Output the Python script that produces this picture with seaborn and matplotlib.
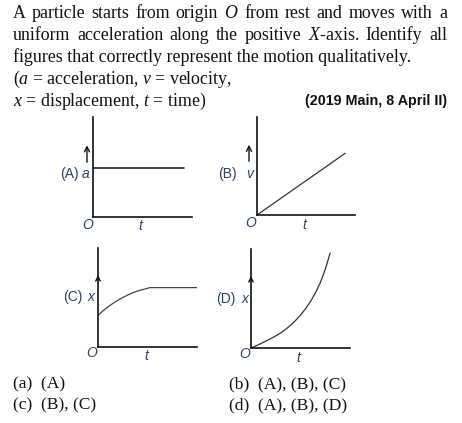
import matplotlib
matplotlib.use("Agg")
import matplotlib.pyplot as plt
import seaborn as sns
import numpy as np

# ---------------- data ----------------
header_lines = [
    "A particle starts from origin $O$ from rest and moves with a",
    "uniform acceleration along the positive $X$-axis. Identify all",
    "figures that correctly represent the motion qualitatively.",
    "($a$ = acceleration, $v$ = velocity,",
    "$x$ = displacement, $t$ = time)",
]
source_label = "(2019 Main, 8 April II)"
options_left = ["(a)  (A)", "(c)  (B), (C)"]
options_right = ["(b)  (A), (B), (C)", "(d)  (A), (B), (D)"]

panel_names = ["(A)", "(B)", "(C)", "(D)"]
panel_vars = ["a", "v", "x", "x"]

# (A) acceleration vs time
a_t = [0.0, 9.2]
a_val = [4.9, 4.9]
# (B) velocity vs time
b_t = [0.0, 9.0]
b_val = [0.0, 6.3]
# (C) displacement vs time (wrong shape)
c_t = [0.0, 0.5, 1.0, 1.5, 2.0, 2.5, 3.0, 3.5, 4.0, 4.5, 5.0, 5.25, 10.0]
c_val = [3.2, 3.65, 4.05, 4.4, 4.72, 5.0, 5.25, 5.47, 5.65, 5.8, 5.93, 6.0, 6.0]
# (D) displacement vs time (parabola-like)
d_t = [0.0, 0.5, 1.0, 1.5, 2.0, 2.5, 3.0, 3.5, 4.0, 4.5, 5.0, 5.5, 6.0,
       6.5, 7.0, 7.5, 8.0]
d_val = [0.0, 0.22, 0.45, 0.7, 0.95, 1.22, 1.52, 1.88, 2.3, 2.78, 3.32,
         3.95, 4.68, 5.55, 6.6, 7.95, 9.6]

# ---------------- figure ----------------
sns.set_theme(style="white")
plt.rcParams["font.family"] = ["Liberation Serif", "DejaVu Serif"]
plt.rcParams["mathtext.fontset"] = "custom"
plt.rcParams["mathtext.rm"] = "Liberation Serif"
plt.rcParams["mathtext.it"] = "Liberation Serif:italic"

W, H = 462, 423
fig = plt.figure(figsize=(W / 100, H / 100), dpi=100)
fig.patch.set_facecolor("white")

def fx(x):
    return x / W

def fy(y):
    return 1 - y / H

TXT = "#111111"
LAB = "#33405a"

# header, first two lines justified
def justify(line, x0, x1, ybase, **kw):
    words = line.split(" ")
    texts = [fig.text(0, 0, w, **kw) for w in words]
    fig.canvas.draw()
    r = fig.canvas.get_renderer()
    widths = [t.get_window_extent(r).width for t in texts]
    gap = (x1 - x0 - sum(widths)) / (len(words) - 1)
    x = x0
    for t, w in zip(texts, widths):
        t.set_position((fx(x), fy(ybase)))
        x += w + gap

head_kw = dict(fontsize=12.9, color=TXT, va="baseline", ha="left",
               family="Liberation Serif")
baselines = [18.5, 40.5, 62.0, 84.0, 105.5]
for i, line in enumerate(header_lines):
    if i < 2:
        justify(line, 13, 447, baselines[i], **head_kw)
    else:
        fig.text(fx(13), fy(baselines[i]), line, **head_kw)

fig.text(fx(447), fy(105.5), source_label, fontsize=10.3, fontweight="bold",
         family="Liberation Sans", color=TXT, ha="right", va="baseline")

# options
opt_kw = dict(fontsize=12.6, color=TXT, va="baseline", ha="left",
              family="Liberation Serif")
for i, s in enumerate(options_left):
    fig.text(fx(13), fy([388, 409.5][i]), s, **opt_kw)
for i, s in enumerate(options_right):
    fig.text(fx(229), fy([388, 409.5][i]), s, **opt_kw)

# panels: pixel boxes (left, bottom, right, top)
boxes = [(93, 217, 192, 117), (257, 215, 355, 117),
         (98, 347, 197, 248), (251, 348, 350, 249)]
series = [(a_t, a_val), (b_t, b_val), (c_t, c_val), (d_t, d_val)]
line_styles = [dict(color="#111111", lw=1.1), dict(color="#333333", lw=0.9),
               dict(color="#444444", lw=0.9), dict(color="#333333", lw=0.9)]

name_pos = [(60, 178), (218, 178), (63, 301), (216, 303)]
var_pos = [(82, 178), (246, 178), (88, 301), (241.5, 303)]
o_pos = [(82.5, 229), (245, 227), (86.5, 357), (239, 358)]
t_pos = [(140, 230), (304, 229), (146, 360), (298, 362)]

lab_kw = dict(fontsize=10, color=LAB, family="Liberation Sans", va="baseline")

for k in range(4):
    l, b, r, t = boxes[k]
    ax = fig.add_axes([fx(l), fy(b), (r - l) / W, (b - t) / H])
    ax.set_xlim(0, 10)
    ax.set_ylim(0, 10)
    ax.set_facecolor("none")
    xs, ys = series[k]
    sns.lineplot(x=xs, y=ys, ax=ax, sort=False, **line_styles[k])
    for s in ["top", "right"]:
        ax.spines[s].set_visible(False)
    for s in ["left", "bottom"]:
        ax.spines[s].set_visible(True)
        ax.spines[s].set_color("#111111")
        ax.spines[s].set_linewidth(1.2)
    ax.set_xticks([])
    ax.set_yticks([])
    ax.set_xlabel("")
    ax.set_ylabel("")

    # arrows
    if k < 2:
        ax_x = (87 - l) / (r - l) if k == 0 else (249 - l) / (r - l)
        ax.annotate("", xy=(ax_x, 0.745), xytext=(ax_x, 0.52),
                    xycoords="axes fraction", textcoords="axes fraction",
                    arrowprops=dict(arrowstyle="->", color="#111111", lw=1.0,
                                    mutation_scale=9),
                    annotation_clip=False)
    else:
        ax.annotate("", xy=(0, 0.755), xytext=(0, 0.66),
                    xycoords="axes fraction", textcoords="axes fraction",
                    arrowprops=dict(arrowstyle="->", color="#111111", lw=1.0,
                                    mutation_scale=8),
                    annotation_clip=False)

    fig.text(fx(name_pos[k][0]), fy(name_pos[k][1]), panel_names[k], ha="left", **lab_kw)
    fig.text(fx(var_pos[k][0]), fy(var_pos[k][1]), panel_vars[k], ha="left",
             fontstyle="italic", **lab_kw)
    fig.text(fx(o_pos[k][0]), fy(o_pos[k][1]), "O", ha="left",
             fontstyle="italic", **lab_kw)
    fig.text(fx(t_pos[k][0]), fy(t_pos[k][1]), "t", ha="center",
             fontstyle="italic", **lab_kw)

fig.savefig("out.png", dpi=100, facecolor="white")
